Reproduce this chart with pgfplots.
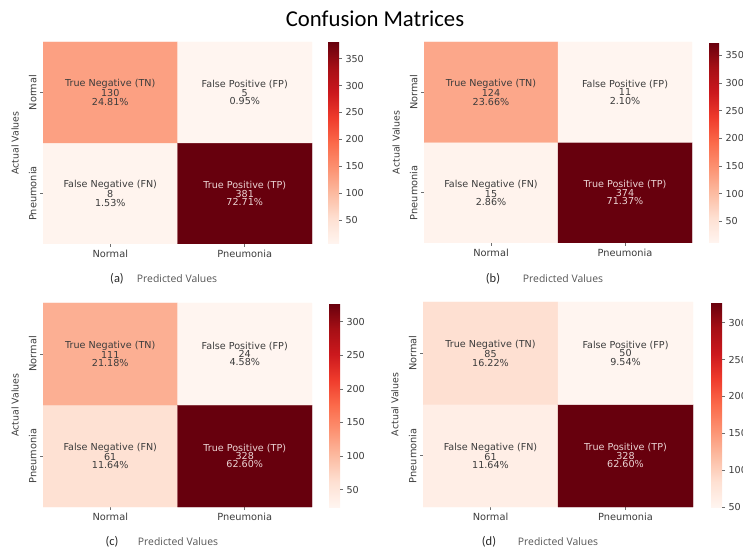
\documentclass[border=0pt]{standalone}
\usepackage{pgfplots}
\pgfplotsset{compat=1.18}
\usepackage{fontspec}
\setmainfont{DejaVu Sans}
\newfontfamily\carlito{Carlito}
\newfontfamily\opensans{Open Sans}
\definecolor{txt}{RGB}{60,60,60}
\definecolor{lighttxt}{RGB}{235,212,212}
\definecolor{pvgray}{RGB}{85,85,85}
\definecolor{tickgray}{RGB}{110,110,110}
\pgfplotsset{
  colormap={reds}{rgb255=(255,245,240) rgb255=(254,224,210) rgb255=(252,187,161) rgb255=(252,146,114) rgb255=(251,106,74) rgb255=(239,59,44) rgb255=(203,24,29) rgb255=(165,15,21) rgb255=(103,0,13)},
  cm/.style={
    scale only axis,
    anchor=north west,
    xmin=-0.5, xmax=1.5, ymin=-0.5, ymax=1.5,
    enlargelimits=false,
    axis line style={draw=none},
    xtick={0,1}, ytick={0,1},
    xticklabels={Normal,Pneumonia},
    yticklabels={Pneumonia,Normal},
    tick align=outside, major tick length=3pt,
    xtick pos=bottom, ytick pos=left,
    tick style={draw=tickgray, line width=0.6pt},
    ticklabel style={font=\fontsize{9.8}{10}\selectfont, text=txt},
    yticklabel style={rotate=90, anchor=south},
    ylabel={Actual Values},
    ylabel style={at={(axis description cs:-0.104,0.5)}, anchor=center, font=\fontsize{9.4}{10}\selectfont, text=txt},
    colormap name=reds,
    colorbar shift/.style={xshift=0pt},
    colorbar,
  },
  cb/.style={
    colorbar style={
      width=#1,
      at={(parent axis.north east)}, anchor=north west,
      axis line style={draw=none},
      tick align=outside, major tick length=3pt,
      ytick pos=right, yticklabel pos=right,
      tick style={draw=tickgray, line width=0.6pt},
      yticklabel style={font=\fontsize{9.6}{10}\selectfont, text=txt, /pgf/number format/assume math mode=true},
      scaled y ticks=false,
    }
  }
}
\newcommand{\cell}[4]{\node[align=center, text=#4, font=\fontsize{9.6}{8.4}\selectfont, inner sep=0pt] at (axis cs:#1) {#2\\#3};}
\newcommand{\lbl}[4]{%
  \node[font=\carlito\fontsize{12.5}{13}\selectfont, text=black!85] at (#1pt,#3pt) {#4};}
\begin{document}
\begin{tikzpicture}
\useasboundingbox (0,0) rectangle (743pt,549pt);
\clip (0,0) rectangle (743pt,549pt);
\node[font=\carlito\fontsize{22.7}{24}\selectfont] at (375pt,530pt) {Confusion Matrices};

% (a)
\begin{axis}[cm, at={(43pt,507pt)}, width=269pt, height=202pt,
  point meta min=5, point meta max=381,
  cb=11pt, colorbar style={xshift=16pt, ytick={50,100,...,350}}]
\addplot[matrix plot*, mesh/cols=2, point meta=explicit] table[meta=c]{
x y c
0 0 8
1 0 381
0 1 130
1 1 5
};
\cell{0,1}{True Negative (TN)\\130}{24.81\%}{txt}
\cell{1,1}{False Positive (FP)\\5}{0.95\%}{txt}
\cell{0,0}{False Negative (FN)\\8}{1.53\%}{txt}
\cell{1,0}{True Positive (TP)\\381}{72.71\%}{lighttxt}
\end{axis}

% (b)
\begin{axis}[cm, at={(424pt,507pt)}, width=268pt, height=201pt,
  point meta min=11, point meta max=374,
  cb=10pt, colorbar style={xshift=17pt, ytick={50,100,...,350}}]
\addplot[matrix plot*, mesh/cols=2, point meta=explicit] table[meta=c]{
x y c
0 0 15
1 0 374
0 1 124
1 1 11
};
\cell{0,1}{True Negative (TN)\\124}{23.66\%}{txt}
\cell{1,1}{False Positive (FP)\\11}{2.10\%}{txt}
\cell{0,0}{False Negative (FN)\\15}{2.86\%}{txt}
\cell{1,0}{True Positive (TP)\\374}{71.37\%}{lighttxt}
\end{axis}

% (c)
\begin{axis}[cm, at={(43pt,246pt)}, width=269pt, height=204pt,
  point meta min=24, point meta max=328,
  cb=11pt, colorbar style={xshift=17pt, ytick={50,100,...,300}}]
\addplot[matrix plot*, mesh/cols=2, point meta=explicit] table[meta=c]{
x y c
0 0 61
1 0 328
0 1 111
1 1 24
};
\cell{0,1}{True Negative (TN)\\111}{21.18\%}{txt}
\cell{1,1}{False Positive (FP)\\24}{4.58\%}{txt}
\cell{0,0}{False Negative (FN)\\61}{11.64\%}{txt}
\cell{1,0}{True Positive (TP)\\328}{62.60\%}{lighttxt}
\end{axis}

% (d)
\begin{axis}[cm, at={(423pt,247pt)}, width=270pt, height=205pt,
  point meta min=50, point meta max=328,
  cb=11pt, colorbar style={xshift=18pt, ytick={50,100,...,300}}]
\addplot[matrix plot*, mesh/cols=2, point meta=explicit] table[meta=c]{
x y c
0 0 61
1 0 328
0 1 85
1 1 50
};
\cell{0,1}{True Negative (TN)\\85}{16.22\%}{txt}
\cell{1,1}{False Positive (FP)\\50}{9.54\%}{txt}
\cell{0,0}{False Negative (FN)\\61}{11.64\%}{txt}
\cell{1,0}{True Positive (TP)\\328}{62.60\%}{lighttxt}
\end{axis}

% sub-captions
\lbl{117}{}{270}{(a)}
\lbl{493}{}{270}{(b)}
\lbl{112}{}{7}{(c)}
\lbl{489}{}{7}{(d)}
\node[font=\opensans\fontsize{10.4}{11}\selectfont, text=pvgray] at (177pt,270pt) {Predicted Values};
\node[font=\opensans\fontsize{10.4}{11}\selectfont, text=pvgray] at (563pt,270pt) {Predicted Values};
\node[font=\opensans\fontsize{10.4}{11}\selectfont, text=pvgray] at (178pt,7pt) {Predicted Values};
\node[font=\opensans\fontsize{10.4}{11}\selectfont, text=pvgray] at (558pt,7pt) {Predicted Values};
\end{tikzpicture}
\end{document}
